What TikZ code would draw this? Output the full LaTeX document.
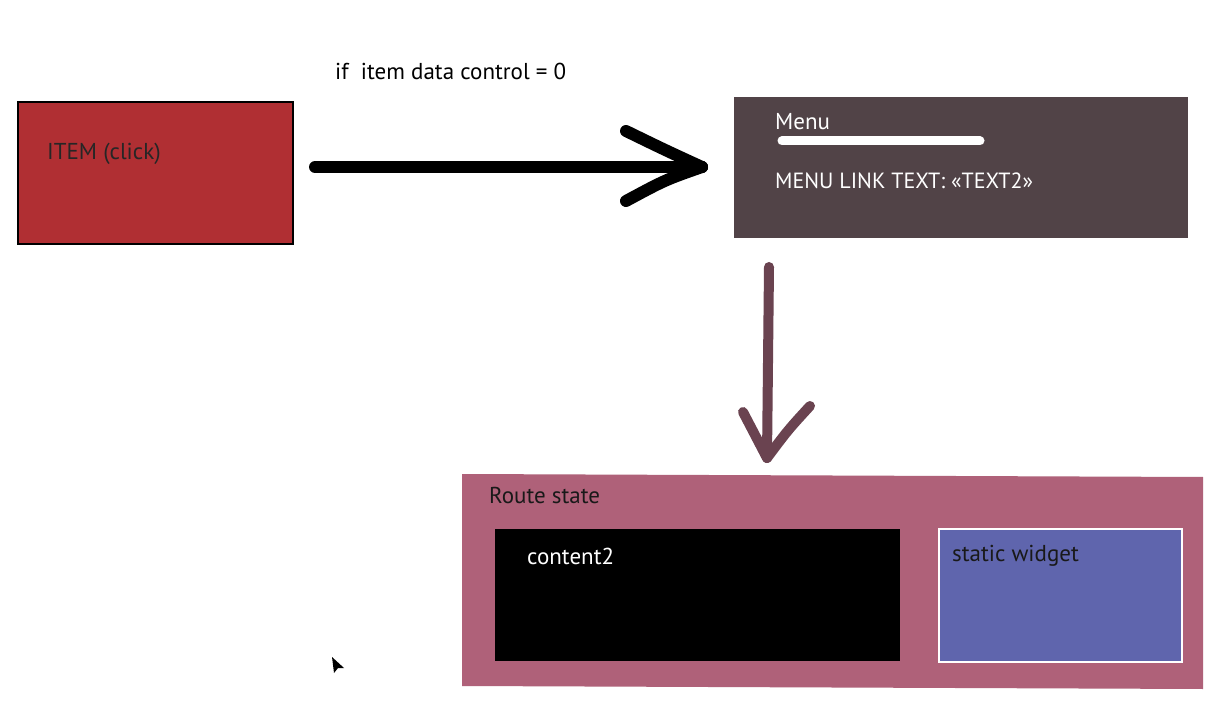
\documentclass[tikz,border=0pt]{standalone}
\usepackage{fontspec}
\setmainfont{PT Sans}
\definecolor{itemc}{HTML}{B02F33}
\definecolor{menuc}{HTML}{514347}
\definecolor{downc}{HTML}{6A4350}
\definecolor{routec}{HTML}{AF6179}
\definecolor{widgetc}{HTML}{5F65AD}
\tikzset{
  box/.style={rectangle, inner sep=0pt, outer sep=0pt},
  lbl/.style={anchor=base west, inner sep=0pt, font=\fontsize{23}{27}\selectfont},
  bigline/.style={line width=12pt, line cap=round, line join=round, black},
  downline/.style={line width=10pt, line cap=round, line join=round, downc},
}
\begin{document}
\begin{tikzpicture}[x=1pt,y=-1pt]
\useasboundingbox (0,0) rectangle (1208,711);
\fill[white] (0,0) rectangle (1208,711);

% item box
\node[box, fill=itemc, draw=black, line width=2pt, minimum width=275pt, minimum height=142pt] (item) at (155.5,173) {};
\node[lbl, text=black!85] (itemtxt) at (47,160) {ITEM (click)};

% condition label
\node[lbl, text=black] (cond) at (335,80) {if\ \ item data control = 0};

% menu box
\node[box, fill=menuc, minimum width=454pt, minimum height=141pt] (menu) at (961,167.5) {};
\node[lbl, text=white] (menutitle) at (775,130) {Menu};
\coordinate (barl) at (782,141);
\coordinate (barr) at (980,141);
\draw[white, line width=9pt, line cap=round] (barl) -- (barr);
\node[lbl, text=white, font=\fontsize{22}{26}\selectfont] (menulink) at (775,189) {MENU LINK TEXT: «TEXT2»};

% right arrow
\coordinate (a1) at (315,167);
\coordinate (a2) at (702,167);
\coordinate (h1) at (626,131);
\coordinate (h2) at (626,201);
\draw[bigline] (a1) -- (a2);
\draw[bigline] (h1) .. controls (665,150) .. (a2);
\draw[bigline] (h2) .. controls (665,180) .. (a2);

% down arrow
\coordinate (d1) at (769,267);
\coordinate (d2) at (767,458);
\coordinate (e1) at (743,412);
\coordinate (e2) at (810,406);
\draw[downline] (d1) -- (d2);
\draw[downline] (e1) .. controls (755,435) .. (d2);
\draw[downline] (e2) .. controls (788,430) .. (d2);

% route state
\fill[routec] (462,474) -- (1203,477) -- (1203,689) -- (462,686) -- cycle;
\node[lbl, text=black!90] (route) at (489,503) {Route state};

% content2
\node[box, fill=black, minimum width=405pt, minimum height=132pt] (content) at (697.5,595) {};
\node[lbl, text=white] (contenttxt) at (527,564) {content2};

% static widget
\node[box, fill=widgetc, draw=white, line width=2pt, minimum width=243pt, minimum height=133pt] (widget) at (1060,595) {};
\node[lbl, text=black!90] (widgettxt) at (952,561) {static widget};

% cursor
\fill[black] (332,657) -- (344,668) -- (338,668) -- (334,673) -- cycle;
\end{tikzpicture}
\end{document}
